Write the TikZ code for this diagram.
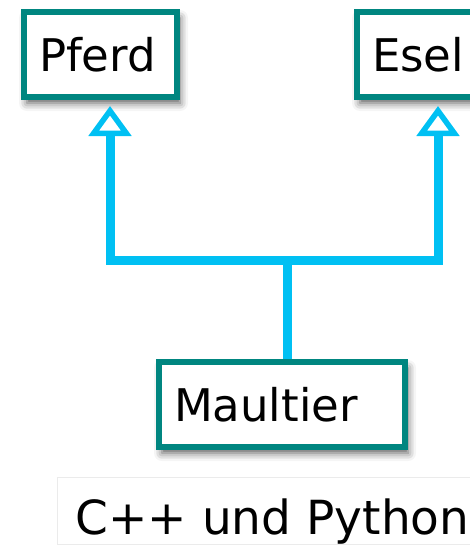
\documentclass[tikz,border=0pt]{standalone}
\usepackage{fontspec}
\setmainfont{DejaVu Sans}
\usetikzlibrary{arrows.meta,positioning,shadows.blur}
\definecolor{rahmen}{RGB}{0,134,128}
\definecolor{linie}{RGB}{0,192,243}

\begin{document}
\begin{tikzpicture}[x=1pt,y=-1pt,>={Triangle[open,width=42pt,length=30pt,line width=5.5pt]},
    klasse/.style={draw=rahmen,line width=6pt,fill=white,rectangle,anchor=north west,
      minimum height=85pt,inner xsep=15pt,align=left,font=\fontsize{45}{54}\selectfont,
      blur shadow={shadow xshift=3pt,shadow yshift=-6pt,shadow blur radius=8pt,shadow opacity=65}},
    erbt/.style={draw=linie,line width=9pt}]
        \useasboundingbox (0,0) rectangle (470,546);
        \node [klasse,text width=123pt] (pferd) at (21,9) {Pferd};
        \node [klasse,text width=97pt] (esel) at (354,9) {Esel};
        \node [klasse,text width=216pt] (maultier) at (156,359) {Maultier};
        \coordinate (gabel) at (287.5,260);
        % Vererbung: Maultier von Pferd und Esel
        \draw [erbt,<->,shorten <=6pt,shorten >=6pt] ([xshift=9.5pt]pferd.south) |- (gabel) -| ([xshift=17.5pt]esel.south);
        \draw [erbt] (maultier.north -| gabel) -- (gabel);
        \node [draw=black!8,line width=1pt,anchor=north west,inner xsep=7pt,inner ysep=0pt,
          text height=57pt,minimum width=430pt,font=\fontsize{47}{58}\selectfont] (sprachen) at (57,477) {C++ und Python};
\end{tikzpicture}
\end{document}
